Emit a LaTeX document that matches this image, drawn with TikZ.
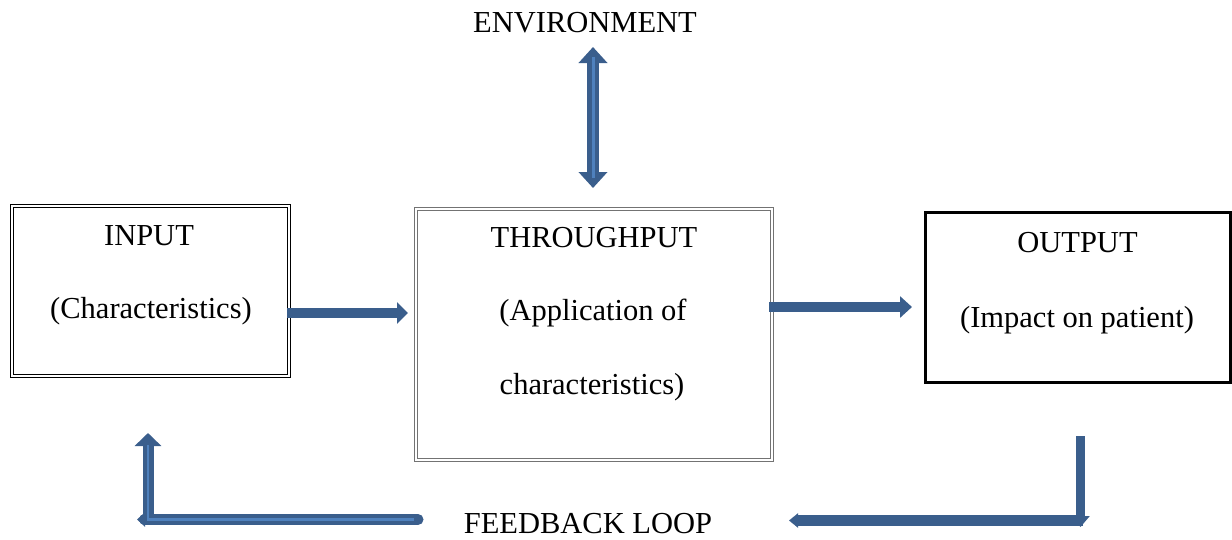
\documentclass[tikz,border=0pt]{standalone}
\usepackage{fontspec}
\setmainfont{Liberation Serif}
\usetikzlibrary{arrows.meta,calc}
\definecolor{arr}{HTML}{3A5E8C}
\definecolor{hl}{HTML}{4F81BD}
\tikzset{
  box/.style={rectangle, inner sep=0pt, outer sep=0pt},
  dbox/.style={box, draw=black, double=white, line width=1.1pt, double distance=1.6pt},
  gbox/.style={box, draw=black!55, double=white, line width=1.1pt, double distance=1.8pt},
  sbox/.style={box, draw=black, line width=3pt},
  lbl/.style={anchor=base, inner sep=0pt, font=\fontsize{30.5}{36}\selectfont},
  flow/.style={draw=arr, line width=10pt},
  hline/.style={draw=hl, line width=2.2pt},
}
\begin{document}
\begin{tikzpicture}[x=1pt,y=-1pt]
\useasboundingbox (0,0) rectangle (1232,539);
% boxes
\node[dbox, minimum width=277pt, minimum height=170pt] (input) at (150.5,291) {};
\node[gbox, minimum width=356pt, minimum height=251pt] (thr) at (594,334.5) {};
\node[sbox, minimum width=304.5pt, minimum height=170pt] (output) at (1077.75,297.5) {};
% labels
\node[lbl] (t1) at (149,245) {INPUT};
\node[lbl] (t2) at (151,318) {(Characteristics)};
\node[lbl] (t3) at (594,247) {THROUGHPUT};
\node[lbl] (t4) at (593,320) {(Application of};
\node[lbl] (t5) at (592,394) {characteristics)};
\node[lbl] (t6) at (1077.5,252) {OUTPUT};
\node[lbl] (t7) at (1077,327) {(Impact on patient)};
\node[lbl] (env) at (585,32) {ENVIRONMENT};
\node[lbl] (fb) at (588,533) {FEEDBACK LOOP};
% coordinates
\coordinate (a1s) at (287,313);
\coordinate (a1e) at (408,313);
\coordinate (a2s) at (769,307);
\coordinate (a2e) at (912,307);
\coordinate (envt) at (593,47);
\coordinate (envb) at (593,188);
\coordinate (lvb) at (148,525);
\coordinate (lvt) at (148,433);
\coordinate (lhr) at (418,519.5);
\coordinate (lhl) at (137,519.5);
\coordinate (rvt) at (1080.5,436);
\coordinate (rvb) at (1080.5,527);
\coordinate (rhr) at (1083,520.5);
\coordinate (rhl) at (789,520.5);
% main arrows
\draw[flow, -{Triangle[length=11pt,width=21pt]}] (a1s) -- (a1e);
\draw[flow, -{Triangle[length=12pt,width=21pt]}] (a2s) -- (a2e);
% environment double arrow
\draw[flow, line width=12pt, {Triangle[length=16pt,width=28pt]}-{Triangle[length=16pt,width=28pt]}] (envt) -- (envb);
\draw[hline, line width=3pt] ($(envt)+(0,10)$) -- ($(envb)+(0,-10)$);
% left feedback
\draw[flow, line width=11pt, line cap=round, -{Triangle[length=8pt,width=14pt]}] (lhr) -- (lhl);
\draw[flow, line width=11pt, -{Triangle[length=13pt,width=26pt]}] (lvb) -- (lvt);
\draw[hline] ($(lhr)+(-4,0)$) -- ($(lhl)+(10,0)$);
\draw[hline] ($(lvb)+(0,-4)$) -- ($(lvt)+(0,12)$);
% right feedback
\draw[flow, line width=11pt, -{Triangle[length=9pt,width=14pt]}] (rhr) -- (rhl);
\draw[flow, line width=9pt, -{Triangle[length=11pt,width=18pt]}] (rvt) -- (rvb);
\end{tikzpicture}
\end{document}
